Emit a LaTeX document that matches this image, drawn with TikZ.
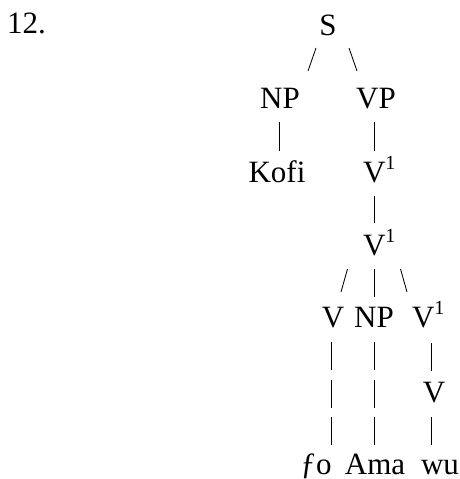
\documentclass[tikz,border=0pt]{standalone}
\usepackage{fontspec}
\setmainfont{Liberation Serif}
\newcommand\supone{\raisebox{12.5pt}{\fontsize{20}{20}\selectfont 1}}
\begin{document}
\begin{tikzpicture}[x=1pt,y=-1pt,
  lab/.style={inner sep=0pt,outer sep=0pt,anchor=base,font=\fontsize{31}{31}\selectfont},
  labw/.style={lab,anchor=base west},
  br/.style={line width=0.85pt}]
\useasboundingbox[fill=white] (0,0) rectangle (460,479);
% labels
\node[labw] (num) at (7,33) {12.};
\node[lab] (S) at (328,35) {S};
\node[lab] (NPa) at (280,108) {NP};
\node[lab] (VP) at (376,108) {VP};
\node[lab] (Kofi) at (277,182) {Kofi};
\node[labw] (Va) at (363,182) {V\supone};
\node[labw] (Vb) at (363,255) {V\supone};
\node[lab] (Vc) at (333,327) {V};
\node[lab] (NPb) at (374,327) {NP};
\node[labw] (Vd) at (412,327) {V\supone};
\node[lab] (Ve) at (434,402) {V};
\node[lab] (fo) at (316,474) {ƒo};
\node[lab] (Ama) at (375,474) {Ama};
\node[lab] (wu) at (440,474) {wu};
% connector ends
\coordinate (s1) at (316,48);   \coordinate (s2) at (308,71);
\coordinate (s3) at (349,48);   \coordinate (s4) at (357,71);
\coordinate (n1) at (279,122);  \coordinate (n2) at (279,151);
\coordinate (p1) at (374,122);  \coordinate (p2) at (374,151);
\coordinate (a1) at (374,196);  \coordinate (a2) at (374,223);
\coordinate (b1) at (347.5,269);\coordinate (b2) at (341,292);
\coordinate (b3) at (374,269);  \coordinate (b4) at (374,297);
\coordinate (b5) at (400.5,269);\coordinate (b6) at (407,292);
\coordinate (c1) at (331.5,342);\coordinate (c2) at (331.5,370);
\coordinate (c3) at (331.5,380);\coordinate (c4) at (331.5,408);
\coordinate (c5) at (331.5,417);\coordinate (c6) at (331.5,445);
\coordinate (d1) at (374,342);  \coordinate (d2) at (374,370);
\coordinate (d3) at (374,380);  \coordinate (d4) at (374,408);
\coordinate (d5) at (374,417);  \coordinate (d6) at (374,445);
\coordinate (e1) at (431,343);  \coordinate (e2) at (431,371);
\coordinate (e3) at (431,417);  \coordinate (e4) at (431,445);
% connectors
\draw[br] (s1) -- (s2);
\draw[br] (s3) -- (s4);
\draw[br] (n1) -- (n2);
\draw[br] (p1) -- (p2);
\draw[br] (a1) -- (a2);
\draw[br] (b1) -- (b2);
\draw[br] (b3) -- (b4);
\draw[br] (b5) -- (b6);
\draw[br] (c1) -- (c2);
\draw[br] (c3) -- (c4);
\draw[br] (c5) -- (c6);
\draw[br] (d1) -- (d2);
\draw[br] (d3) -- (d4);
\draw[br] (d5) -- (d6);
\draw[br] (e1) -- (e2);
\draw[br] (e3) -- (e4);
\end{tikzpicture}
\end{document}
